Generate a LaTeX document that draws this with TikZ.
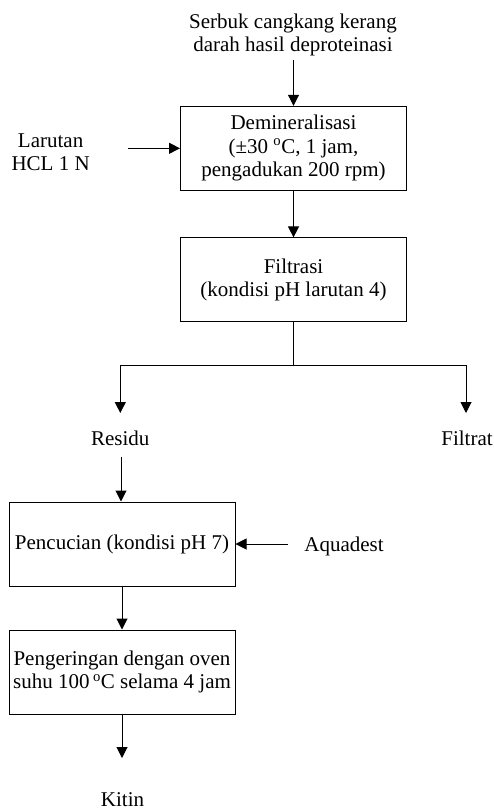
\documentclass[tikz,border=0pt]{standalone}
\usepackage{fontspec}
\setmainfont{Liberation Serif}
\usetikzlibrary{arrows.meta}
\begin{document}
\begin{tikzpicture}[x=1pt,y=-1pt,
  every node/.style={font=\fontsize{21}{23.5}\selectfont, inner sep=0pt, align=center},
  procbox/.style={draw, line width=1pt, minimum width=226pt, minimum height=84pt},
  arr/.style={line width=1pt, -{Triangle[length=11pt,width=11pt]}},
  ln/.style={line width=1pt}]
\useasboundingbox (0,0) rectangle (494,810);
% labels
\node (src) at (293,35) {Serbuk cangkang kerang\\darah hasil deproteinasi};
\node (hcl) at (50.6,152) {Larutan\\HCL 1 N};
% boxes
\node[procbox] (demin) at (293.5,148.3) {Demineralisasi\\(\symbol{"00B1}30 \textsuperscript{o}C, 1 jam,\\pengadukan 200 rpm)};
\node[procbox] (filt) at (293.5,279.9) {Filtrasi\\(kondisi pH larutan 4)};
\node (res) at (120.3,438) {Residu};
\node (fil) at (467,438) {Filtrat};
\node[procbox] (wash) at (122,544) {Pencucian (kondisi pH 7)};
\node (aq) at (344,546) {Aquadest};
\node[procbox] (dry) at (122,672) {Pengeringan dengan oven\\suhu 100\,\textsuperscript{o}C selama 4 jam};
\node (kitin) at (122.5,800) {Kitin};
% coordinates
\coordinate (srcOut) at (293.5,60);
\coordinate (hclOut) at (128,148.3);
\coordinate (split) at (293.5,365);
\coordinate (resTip) at (120.3,413);
\coordinate (filTip) at (466,413);
\coordinate (resOut) at (121,457);
\coordinate (aqOut) at (288,544);
\coordinate (kitTip) at (122,758);
% connectors
\draw[arr] (srcOut) -- (demin.north);
\draw[arr] (hclOut) -- (demin.west);
\draw[arr] (demin.south) -- (filt.north);
\draw[ln] (filt.south) -- (split);
\draw[arr] (split) -| (resTip);
\draw[arr] (split) -| (filTip);
\draw[arr] (resOut) -- (resOut |- wash.north);
\draw[arr] (aqOut) -- (wash.east);
\draw[arr] (wash.south) -- (dry.north);
\draw[arr] (dry.south) -- (kitTip);
\end{tikzpicture}
\end{document}
